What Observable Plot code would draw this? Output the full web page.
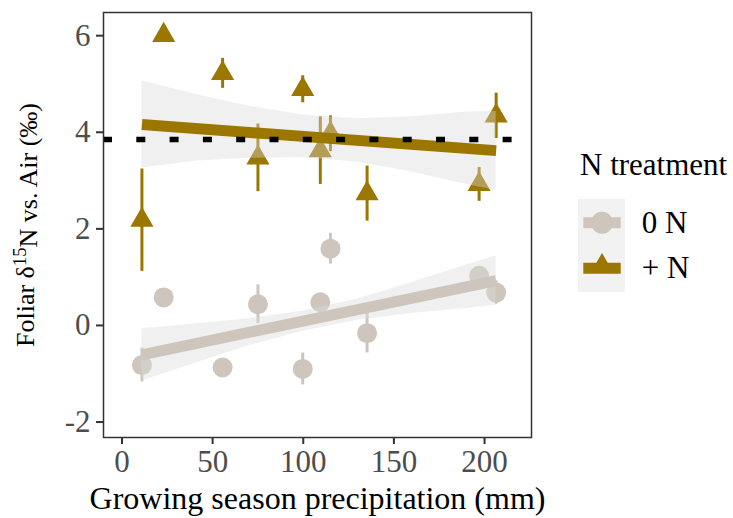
<!DOCTYPE html>
<html><head><meta charset="utf-8">
<script src="https://cdn.jsdelivr.net/npm/d3@7"></script>
<script src="https://cdn.jsdelivr.net/npm/@observablehq/plot@0.6"></script>
<style>
body{margin:0;background:#fff;}
#wrap{position:relative;width:733px;height:518px;font-family:'Liberation Serif','Times New Roman',serif;}
#legend{position:absolute;left:560px;top:130px;}
</style></head><body><div id="wrap"></div>
<script>
// ---- data ----
const precip   = [11, 23, 55.5, 75, 99.7, 109.4, 115, 135.2, 197, 206.4];
const ctrlMean = [-0.82, 0.58, -0.87, 0.44, -0.90, 0.48, 1.59, -0.16, 1.03, 0.68];
const ctrlErr  = [0.35, 0.12, 0.12, 0.40, 0.33, 0.15, 0.32, 0.41, 0.15, 0.24];
const nMean    = [2.18, 6.01, 5.22, 3.47, 4.89, 3.62, 3.97, 2.73, 2.92, 4.34];
const nErr     = [1.06, 0.15, 0.31, 0.70, 0.28, 0.70, 0.37, 0.57, 0.35, 0.47];
const fitX     = [11, 206.4];
const ctrlFit  = [-0.61, 0.93];
const nFit     = [4.16, 3.62];
const bandX    = [11, 40, 70, 100, 130, 160, 190, 206.4];
const ctrlLo   = [-1.15, -0.79, -0.42, -0.12, 0.11, 0.25, 0.35, 0.42];
const ctrlHi   = [-0.07, 0.03, 0.14, 0.30, 0.55, 0.89, 1.25, 1.44];
const nLo      = [3.26, 3.40, 3.46, 3.48, 3.38, 3.18, 2.92, 2.80];
const nHi      = [5.06, 4.79, 4.54, 4.36, 4.28, 4.32, 4.42, 4.43];
const airRef   = [3.85];
const treatments = ["0 N", "+ N"];
const colors     = ["#CEC6BD", "#9B7700"];
const xTicks = [0, 50, 100, 150, 200];
const yTicks = [-2, 0, 2, 4, 6];

const FONT = "'Liberation Serif','Times New Roman',serif";

// ---- tables ----
const ctrlRows = precip.map((p, i) => ({p, t: "0 N", m: ctrlMean[i], e: ctrlErr[i]}));
const nRows    = precip.map((p, i) => ({p, t: "+ N", m: nMean[i], e: nErr[i]}));
const rows = ctrlRows.concat(nRows);
const bands = bandX.map((x, i) => ({x, t: "0 N", lo: ctrlLo[i], hi: ctrlHi[i]}))
  .concat(bandX.map((x, i) => ({x, t: "+ N", lo: nLo[i], hi: nHi[i]})));
const fits = fitX.map((x, i) => ({x, t: "0 N", y: ctrlFit[i]}))
  .concat(fitX.map((x, i) => ({x, t: "+ N", y: nFit[i]})));

const plot = Plot.plot({
  width: 733, height: 518,
  marginLeft: 103, marginRight: 202, marginTop: 12, marginBottom: 81,
  style: {fontFamily: FONT, fontSize: "31px", background: "white", color: "black"},
  x: {domain: [-10.2, 225.9]},
  y: {domain: [-2.32, 6.48]},
  color: {domain: treatments, range: colors},
  marks: [
    Plot.ruleX(rows, {x: "p", y1: d => d.m - d.e, y2: d => d.m + d.e, stroke: "t", strokeWidth: 3}),
    Plot.dot(ctrlRows, {x: "p", y: "m", fill: "t", r: 10, symbol: "circle"}),
    Plot.dot(nRows, {x: "p", y: "m", fill: "t", r: 8.6, symbol: "triangle"}),
    Plot.areaY(bands, {x: "x", y1: "lo", y2: "hi", z: "t", fill: "#d9d9d9", fillOpacity: 0.4}),
    Plot.line(fits, {x: "x", y: "y", z: "t", stroke: "t", strokeWidth: 11, strokeLinecap: "butt"}),
    Plot.ruleY(airRef, {stroke: "black", strokeWidth: 5.7, strokeDasharray: "9,24.3"}),
    Plot.frame({stroke: "#333", strokeWidth: 1.5}),
    Plot.axisX({ticks: xTicks, tickSize: 7, tickPadding: 5, stroke: "#333", strokeWidth: 2, fill: "#4d4d4d",
      fontVariant: "normal",
      label: "Growing season precipitation (mm)", labelAnchor: "center", labelArrow: "none", labelOffset: 71}),
    Plot.axisY({ticks: yTicks, tickSize: 7, tickPadding: 6, stroke: "#333", strokeWidth: 2, fill: "#4d4d4d",
      fontVariant: "normal", tickFormat: d => String(d),
      label: "Foliar δ15N vs. Air (‰)", labelAnchor: "center", labelArrow: "none", labelOffset: 88})
  ]
});
document.getElementById("wrap").appendChild(plot);

// fonts and axis titles
const svg = d3.select(plot);
svg.selectAll("text").attr("font-family", FONT);
svg.selectAll('g[aria-label="x-axis tick label"], g[aria-label="y-axis tick label"]').attr("font-size", 31);
const xl = svg.select('g[aria-label="x-axis label"]').attr("fill", "black").attr("font-size", 32);
xl.selectAll("text").text("Growing season precipitation (mm)");
const ylg = svg.select('g[aria-label="y-axis label"]').attr("fill", "black").attr("font-size", 26);
const yl = ylg.select("text");
if (!yl.empty()) {
  yl.text(null);
  yl.append("tspan").text("Foliar δ");
  yl.append("tspan").attr("dy", "-0.42em").attr("font-size", "0.72em").text("15");
  yl.append("tspan").attr("dy", "0.42em").text("N vs. Air (‰)");
}

// legend
const leg = d3.select("#wrap").append("svg").attr("id", "legend").attr("width", 173).attr("height", 170)
  .style("font-family", FONT);
leg.append("text").attr("x", 20).attr("y", 45).attr("font-size", 31).text("N treatment");
leg.append("rect").attr("x", 18).attr("y", 69).attr("width", 47).attr("height", 93).attr("fill", "#f2f2f2");
const keyY = [92.7, 138.3];
treatments.forEach((t, i) => {
  const g = leg.append("g");
  if (i === 0) g.append("circle").attr("cx", 42).attr("cy", keyY[i]).attr("r", 11).attr("fill", colors[i]);
  else g.append("path").attr("transform", `translate(42,${keyY[i] - 2})`)
        .attr("d", d3.symbol(d3.symbolTriangle, Math.PI * 8.6 * 8.6)()).attr("fill", colors[i]);
  g.append("line").attr("x1", 23.3).attr("x2", 60.7).attr("y1", keyY[i]).attr("y2", keyY[i])
    .attr("stroke", colors[i]).attr("stroke-width", 11);
  leg.append("text").attr("x", 81.7).attr("y", keyY[i] + 10).attr("font-size", 31).text(t);
});
</script></body></html>
